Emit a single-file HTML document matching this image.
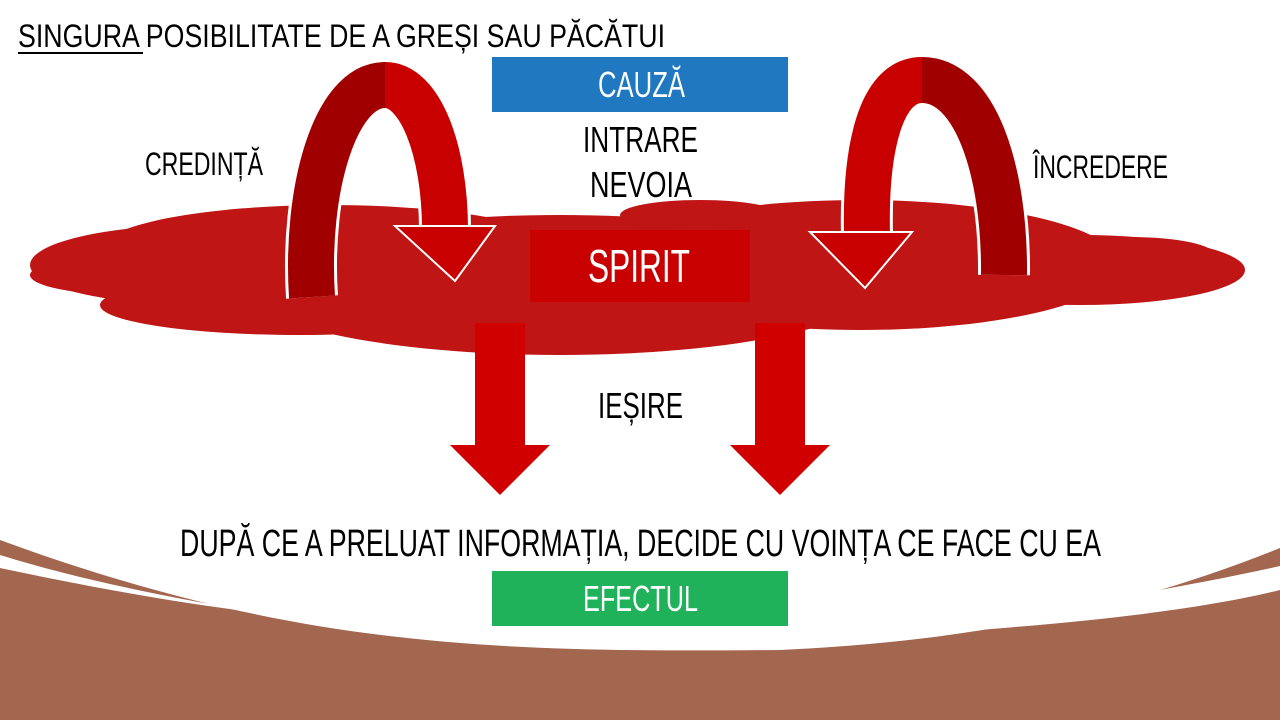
<!DOCTYPE html>
<html><head><meta charset="utf-8"><style>
html,body{margin:0;padding:0;width:1280px;height:720px;overflow:hidden;background:#fff}
svg{display:block}
text{font-family:"Liberation Sans Narrow","Liberation Sans",sans-serif}
</style></head><body>
<svg width="1280" height="720" viewBox="0 0 1280 720" xmlns="http://www.w3.org/2000/svg">
<!-- bottom brown -->
<path d="M0,540 C300,650 500,652 780,650 C1000,640 1150,600 1280,548 L1280,720 L0,720 Z" fill="#a3664f"/>
<path d="M0,555 C80,580 180,600 270,614 C180,604 80,585 0,568 Z" fill="#fff"/>
<path d="M1280,590 C1160,620 960,632 820,640 C980,620 1150,595 1280,566 Z" fill="#fff"/>
<!-- cloud -->
<g fill="#bf1515">
<ellipse cx="200" cy="265" rx="170" ry="40"/>
<ellipse cx="130" cy="275" rx="100" ry="20"/>
<ellipse cx="330" cy="250" rx="230" ry="45"/>
<ellipse cx="560" cy="285" rx="320" ry="70"/>
<ellipse cx="860" cy="265" rx="260" ry="65"/>
<ellipse cx="1080" cy="270" rx="165" ry="35"/>
<ellipse cx="1130" cy="255" rx="85" ry="18"/>
<ellipse cx="300" cy="305" rx="200" ry="30"/>
<ellipse cx="700" cy="215" rx="80" ry="15"/>
</g>
<!-- left curved arrow -->
<path d="M312,297 C305,190 335,85 385,85 C420,85 445,150 445,230" fill="none" stroke="#fff" stroke-width="52"/>
<path d="M312,297 C305,190 335,85 385,85" fill="none" stroke="#a00000" stroke-width="46"/>
<path d="M385,85 C420,85 445,150 445,230" fill="none" stroke="#c80000" stroke-width="46"/>
<polygon points="395,226 495,226 455,281" fill="#c80000" stroke="#fff" stroke-width="2"/>
<!-- right curved arrow -->
<path d="M1004,275 C1005,170 975,80 922,80 C880,80 865,150 867,235" fill="none" stroke="#fff" stroke-width="52"/>
<path d="M922,80 C880,80 865,150 867,235" fill="none" stroke="#c80000" stroke-width="46"/>
<path d="M1004,275 C1005,170 975,80 922,80" fill="none" stroke="#a00000" stroke-width="46"/>
<polygon points="810,232 912,232 865,288" fill="#c80000" stroke="#fff" stroke-width="2"/>
<!-- down arrows -->
<g fill="#d00000">
<rect x="475" y="323" width="50" height="122"/>
<polygon points="450,445 550,445 500,495"/>
<rect x="755" y="323" width="50" height="122"/>
<polygon points="730,445 830,445 780,495"/>
</g>
<!-- boxes -->
<rect x="492" y="57" width="296" height="55" fill="#1f78c0"/>
<rect x="530" y="230" width="220" height="72" fill="#c80000"/>
<rect x="492" y="571" width="296" height="55" fill="#20b15b"/>
<!-- text -->
<g font-size="32" fill="#000">
<text x="18" y="47" textLength="647" lengthAdjust="spacingAndGlyphs">SINGURA POSIBILITATE DE A GREȘI SAU PĂCĂTUI</text>
<line x1="18" y1="53" x2="143" y2="53" stroke="#000" stroke-width="2"/>
<text x="583" y="152" font-size="36" textLength="115" lengthAdjust="spacingAndGlyphs">INTRARE</text>
<text x="590" y="197" font-size="36" textLength="102" lengthAdjust="spacingAndGlyphs">NEVOIA</text>
<text x="145" y="175" textLength="118" lengthAdjust="spacingAndGlyphs">CREDINȚĂ</text>
<text x="1033" y="178" textLength="135" lengthAdjust="spacingAndGlyphs">ÎNCREDERE</text>
<text x="598" y="418" font-size="36" textLength="85" lengthAdjust="spacingAndGlyphs">IEȘIRE</text>
<text x="180" y="556" font-size="38" textLength="921" lengthAdjust="spacingAndGlyphs">DUPĂ CE A PRELUAT INFORMAȚIA, DECIDE CU VOINȚA CE FACE CU EA</text>
</g>
<text x="598" y="97" font-size="36" fill="#fff" textLength="87" lengthAdjust="spacingAndGlyphs">CAUZĂ</text>
<text x="588" y="282" font-size="46" fill="#fff" textLength="102" lengthAdjust="spacingAndGlyphs">SPIRIT</text>
<text x="583" y="611" font-size="36" fill="#fff" textLength="115" lengthAdjust="spacingAndGlyphs">EFECTUL</text>
</svg>
</body></html>
